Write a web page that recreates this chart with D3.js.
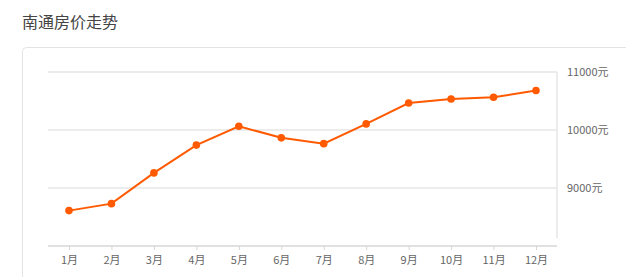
<!DOCTYPE html>
<html>
<head>
<meta charset="utf-8">
<script src="https://cdn.jsdelivr.net/npm/d3@7"></script>
<style>
  html, body { margin: 0; padding: 0; background: #fff; }
  svg { display: block; font-family: "Noto Sans CJK SC", "Noto Sans", sans-serif; }
</style>
</head>
<body>
<svg id="chart" width="626" height="277"></svg>
<script>
const title = "南通房价走势";
const months = ["1月","2月","3月","4月","5月","6月","7月","8月","9月","10月","11月","12月"];
const prices = [8610, 8730, 9260, 9740, 10065, 9865, 9765, 10105, 10465, 10535, 10565, 10680];
const yTicks = [9000, 10000, 11000];
const yLabelSuffix = "元";

const svg = d3.select("#chart");

// title
svg.append("text")
  .attr("x", 22).attr("y", 28)
  .attr("font-size", 16).attr("fill", "#444")
  .text(title);

// card
svg.append("rect")
  .attr("x", 22.5).attr("y", 47.5)
  .attr("width", 640).attr("height", 260)
  .attr("rx", 4)
  .attr("fill", "#fff").attr("stroke", "#e3e3e3");

const x = d3.scalePoint().domain(months).range([69, 536]);
const ys = d3.scaleLinear().domain([8000, 11000]).range([246, 72]);
const left = 48, right = 557;

// gridlines
svg.append("g").selectAll("line").data(yTicks).join("line")
  .attr("x1", left).attr("x2", right)
  .attr("y1", d => ys(d)).attr("y2", d => ys(d))
  .attr("stroke", "#e6e6e6").attr("stroke-width", 1.5);

// right vertical line
svg.append("line")
  .attr("x1", right).attr("x2", right)
  .attr("y1", ys(11000)).attr("y2", ys(8000) - 8)
  .attr("stroke", "#e6e6e6").attr("stroke-width", 1.5);

// y labels
svg.append("g").selectAll("text").data(yTicks).join("text")
  .attr("x", 567).attr("y", d => ys(d) + 4)
  .attr("font-size", 11).attr("fill", "#666")
  .text(d => d + yLabelSuffix);

// x axis
const xAxis = d3.axisBottom(x).tickSize(4).tickPadding(6);
const gx = svg.append("g").attr("transform", `translate(0,${ys(8000)})`).call(xAxis);
gx.select(".domain").remove();
gx.append("line").attr("x1", left).attr("x2", right).attr("y1", 0).attr("y2", 0)
  .attr("stroke", "#d6d6d6").attr("stroke-width", 1.5);
gx.selectAll(".tick line").attr("stroke", "#d6d6d6");
gx.selectAll(".tick text").attr("fill", "#666").attr("font-size", 11)
  .attr("font-family", "\"Noto Sans CJK SC\", sans-serif");

// line
const color = "#ff5a00";
svg.append("path")
  .datum(prices)
  .attr("fill", "none").attr("stroke", color).attr("stroke-width", 2)
  .attr("d", d3.line().x((d, i) => x(months[i])).y(d => ys(d)));

svg.append("g").selectAll("circle").data(prices).join("circle")
  .attr("cx", (d, i) => x(months[i])).attr("cy", d => ys(d))
  .attr("r", 3.8).attr("fill", color);
</script>
</body>
</html>
